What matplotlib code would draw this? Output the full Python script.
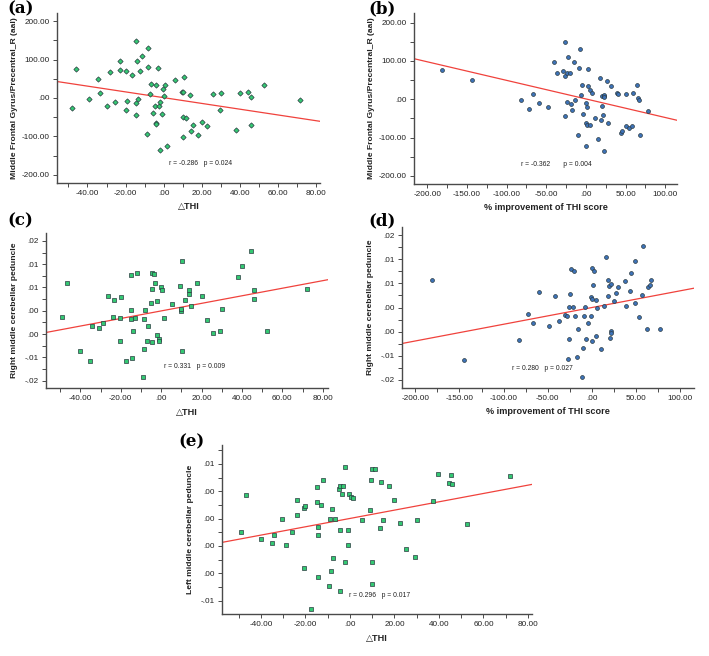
import numpy as np
import matplotlib
matplotlib.use('Agg')
import matplotlib.pyplot as plt
from matplotlib.ticker import FixedLocator

plt.rcParams['font.family'] = ['Liberation Sans', 'DejaVu Sans']

linecolor = '#F0423C'
greencolor = '#33C872'
bluecolor = '#3D72B8'
edgecolor = '#2B3A40'
axcolor = '#4A4A4A'

# ---- data ----
# (a) delta THI vs Middle Frontal Gyrus/Precentral_R
a_x = [-48.0, -45.9, -39.2, -34.5, -33.5, -29.8, -28.1, -25.5, -22.8, -22.8, -19.7, -19.5, -19.7,
       -16.7, -14.3, -14.1, -14.3, -13.6, -14.5, -12.2, -11.3, -8.9, -8.4, -8.0, -7.3, -6.5, -5.8,
       -4.5, -4.2, -4.2, -4.2, -2.8, -2.6, -1.9, -1.7, -0.7, -0.5, 0.0, 0.9, 1.7, 6.1, 9.6, 9.9,
       10.3, 10.3, 10.5, 11.9, 13.9, 14.3, 15.3, 17.8, 20.1, 22.8, 25.6, 29.3, 30.0, 37.7, 39.8,
       44.3, 45.9, 45.7, 52.5, 71.7]
a_y = [-27, 76, -2, 50, 13, -21, 68, -10, 97, 73, 70, -9, -31,
       60, 149, 97, -14, -2, -43, 69, 109, -94, 81, 129, 10, 36, -39,
       -21, 35, -65, -68, 78, -20, -10, -135, -41, 23, 5, 34, -124, 47, 16, 16,
       -102, -50, 55, -52, 9, -87, -71, -95, -63, -74, 10, -32, 12, -83, 14,
       16, 3, -70, 35, -4]

# (b) % improvement of THI vs Middle Frontal Gyrus/Precentral_R
b_x = [-181.4, -144.4, -81.6, -71.5, -66.5, -59.8, -48.4, -40.8, -36.6, -29.5, -26.1, -26.1, -26.5,
       -24.4, -23.6, -22.7, -20.6, -19.4, -17.3, -15.6, -13.9, -10.1, -8.8, -8.0, -6.3, -5.5, -3.4,
       -0.4, 0.4, 0.8, 0.8, 0.4, 2.5, 2.9, 5.5, 7.2, 5.5, 10.9, 14.7, 17.3, 18.5, 19.8, 20.2,
       21.5, 22.3, 23.1, 23.1, 23.1, 26.5, 28.2, 31.1, 38.7, 40.4, 44.2, 45.5, 50.9, 50.5, 54.7,
       58.1, 59.3, 64.4, 65.7, 67.3, 68.2, 78.7]
b_y = [77, 51, -1, -26, 14, -9, -20, 98, 68, 74, 150, 61, -43,
       -8, 69, 111, 69, -13, -29, 98, -1, -93, 81, 130, 11, 36, -38,
       -10, -62, -68, -19, -123, 35, 78, 24, 16, -66, -50, -103, 55, -53, -18, 9,
       -41, 8, 10, 5, -134, 48, -62, 35, 16, 14, -87, -82, -69, 14, -74,
       -69, 16, 36, 3, -3, -94, -31]

# (c) delta THI vs Right middle cerebellar peduncle
c_x = [-49.0, -46.8, -40.1, -35.4, -34.1, -30.7, -28.7, -26.1, -23.4, -23.6, -20.4, -20.1, -20.3,
       -17.5, -14.8, -14.8, -14.7, -14.5, -14.0, -12.9, -11.9, -9.2, -8.7, -8.4, -7.9, -7.1, -6.3,
       -4.8, -4.6, -4.5, -4.5, -3.5, -3.0, -2.1, -2.1, -1.0, -1.0, -0.3, 0.3, 1.5, 5.4, 9.2, 9.9,
       9.9, 10.2, 10.1, 11.7, 13.9, 14.0, 15.0, 17.6, 20.0, 22.8, 25.6, 29.3, 30.0, 37.8, 39.9,
       44.7, 46.0, 45.8, 52.6, 72.2]
c_y = [-0.0013, 0.0059, -0.0087, -0.0107, -0.0032, -0.0038, -0.0027, 0.0032, 0.0024, -0.0014,
       -0.0066, 0.0029, -0.0016, -0.0107, 0.0001, -0.0017, 0.0076, -0.0102, -0.0044, -0.0016,
       0.0081, -0.0143, -0.0083, -0.0017, 0.0002, -0.0065, -0.0032, 0.0016, 0.0082, 0.0046,
       -0.0068, 0.0078, 0.0059, 0.0021, -0.0052, -0.0060, -0.0064, 0.0050, 0.0044, -0.0016,
       0.0014, 0.0054, 0.0000, 0.0003, 0.0106, -0.0086, 0.0024, 0.0045, 0.0035, 0.0011,
       0.0059, 0.0032, -0.0019, -0.0047, -0.0044, 0.0004, 0.0072, 0.0097, 0.0128, 0.0044,
       0.0026, -0.0043, 0.0047]

# (d) % improvement of THI vs Right middle cerebellar peduncle
d_x = [-181.1, -144.5, -82.3, -72.1, -66.8, -60.4, -49.1, -41.9, -37.7, -30.2, -28.3, -27.2, -26.0,
       -25.7, -25.3, -23.8, -21.5, -20.8, -18.9, -16.6, -15.5, -10.9, -10.2, -9.1, -7.5, -7.2,
       -4.2, -1.1, -0.8, -0.4, 0.0, 0.4, 1.1, 1.9, 4.2, 4.9, 5.7, 10.2, 13.6, 16.2, 17.7, 18.5,
       19.2, 20.4, 21.1, 21.5, 21.9, 25.3, 26.8, 29.8, 37.4, 38.9, 42.6, 43.8, 49.1, 49.1, 53.2,
       56.2, 57.7, 62.3, 63.8, 65.3, 66.8, 76.6]
d_y = [0.0058, -0.0108, -0.0067, -0.0013, -0.0033, 0.0032, -0.0039, 0.0023, -0.0027, -0.0015,
       -0.0017, -0.0107, 0.0001, -0.0066, 0.0029, 0.0080, 0.0002, 0.0075, -0.0017, -0.0102,
       -0.0044, -0.0144, -0.0083, -0.0017, 0.0001, -0.0066, -0.0033, 0.0021, -0.0017, 0.0082,
       -0.0069, 0.0017, 0.0046, 0.0076, 0.0015, -0.0060, 0.0000, -0.0087, 0.0003, 0.0105,
       0.0023, 0.0058, 0.0044, -0.0064, 0.0048, -0.0048, -0.0053, 0.0013, 0.0031, 0.0043,
       0.0054, 0.0003, 0.0034, 0.0071, 0.0096, 0.0010, -0.0019, 0.0025, 0.0127, -0.0044,
       0.0043, 0.0046, 0.0057, -0.0044]

# (e) delta THI vs Left middle cerebellar peduncle
e_x = [-49.0, -46.8, -40.0, -35.2, -34.2, -30.6, -28.8, -26.1, -23.6, -23.6, -20.7, -20.6, -20.1,
       -17.6, -15.0, -15.0, -14.5, -14.5, -14.2, -12.9, -12.0, -9.5, -9.0, -8.6, -8.1, -7.4,
       -6.6, -5.1, -4.7, -4.7, -4.5, -3.5, -3.2, -2.3, -2.1, -1.1, -0.9, -0.6, 0.3, 1.4, 5.4,
       9.2, 9.6, 9.9, 10.1, 10.1, 11.4, 13.5, 13.8, 14.9, 17.4, 19.8, 22.7, 25.4, 29.3, 29.9,
       37.4, 39.6, 44.4, 45.6, 45.8, 52.5, 72.0]
e_y = [0.0000, 0.0027, -0.0005, -0.0008, -0.0002, 0.0010, -0.0009, 0.0000, 0.0013, 0.0024,
       -0.0026, 0.0018, 0.0019, -0.0056, 0.0033, 0.0022, 0.0004, -0.0033, -0.0002, 0.0020,
       0.0038, -0.0039, 0.0010, -0.0028, 0.0017, -0.0019, 0.0010, 0.0032, 0.0034, 0.0002,
       -0.0043, 0.0028, 0.0034, -0.0022, 0.0048, 0.0002, -0.0009, 0.0028, 0.0026, 0.0025,
       0.0009, 0.0016, 0.0038, -0.0022, 0.0046, -0.0038, 0.0046, 0.0003, 0.0037, 0.0009,
       0.0034, 0.0024, 0.0007, -0.0012, -0.0018, 0.0009, 0.0023, 0.0043, 0.0036, 0.0042,
       0.0035, 0.0006, 0.0041]

thi_ticks = [-40, -20, 0, 20, 40, 60, 80]
thi_labels = ['-40.00', '-20.00', '.00', '20.00', '40.00', '60.00', '80.00']
pct_ticks = [-200, -150, -100, -50, 0, 50, 100]
pct_labels = ['-200.00', '-150.00', '-100.00', '-50.00', '.00', '50.00', '100.00']
mfg_ticks = [-200, -100, 0, 100, 200]
mfg_labels = ['-200.00', '-100.00', '.00', '100.00', '200.00']
rmcp_ticks = [-0.015, -0.010, -0.005, 0.0, 0.005, 0.010, 0.015]
rmcp_labels = ['-.02', '-.01', '.00', '.00', '.01', '.01', '.02']
lmcp_ticks = [-0.005, -0.003, -0.001, 0.001, 0.003, 0.005]
lmcp_labels = ['-.01', '.00', '.00', '.00', '.00', '.01']

stats = {'a': 'r = -0.286   p = 0.024', 'b': 'r = -0.362       p = 0.004',
         'c': 'r = 0.331   p = 0.009', 'd': 'r = 0.280   p = 0.027',
         'e': 'r = 0.296   p = 0.017'}

W, H = 709, 656
fig = plt.figure(figsize=(W / 100, H / 100), dpi=100)


def px_axes(l, t, r, b):
    return fig.add_axes([l / W, (H - b) / H, (r - l) / W, (b - t) / H])


def style_axes(ax, xt, xl, yt, yl, xlim, ylim, xminor, yminor):
    for spine in ['right', 'top']:
        ax.spines[spine].set_visible(False)
    for spine in ['left', 'bottom']:
        ax.spines[spine].set_color(axcolor)
        ax.spines[spine].set_linewidth(1.0)
    ax.set_xlim(xlim)
    ax.set_ylim(ylim)
    ax.set_xticks(xt)
    ax.set_xticklabels(xl)
    ax.set_yticks(yt)
    ax.set_yticklabels(yl)
    ax.xaxis.set_minor_locator(FixedLocator(xminor))
    ax.yaxis.set_minor_locator(FixedLocator(yminor))
    ax.tick_params(which='both', direction='out', length=3, width=0.7, color=axcolor,
                   labelsize=5.9, labelcolor='#222222', pad=2)


def scatter_panel(ax, x, y, marker, color, ms):
    x = np.array(x)
    y = np.array(y)
    ax.plot(x, y, linestyle='none', marker=marker, markersize=ms, markerfacecolor=color,
            markeredgecolor=edgecolor, markeredgewidth=0.5, zorder=3)
    k, b0 = np.polyfit(x, y, 1)
    xl = np.array(ax.get_xlim())
    ax.plot(xl, k * xl + b0, color=linecolor, linewidth=0.9, zorder=2)


def mids(ticks, lo, hi):
    step = ticks[1] - ticks[0]
    m = []
    v = ticks[0] - step / 2
    while v < hi:
        if v > lo:
            m.append(v)
        v += step
    return m


xlab_kw = dict(fontsize=6.6, fontweight='bold', color='#222222')
ylab_kw = dict(fontsize=6.1, fontweight='bold', color='#222222')
stat_kw = dict(fontsize=4.9, va='center', color='#222222')
panel_kw = dict(fontsize=12, fontweight='bold', family='DejaVu Serif')

# (a)
ax = px_axes(57, 13, 320, 183)
xlim, ylim = (-56, 82), (-221, 221)
style_axes(ax, thi_ticks, thi_labels, mfg_ticks, mfg_labels, xlim, ylim,
           mids(thi_ticks, *xlim), mids(mfg_ticks, *ylim))
scatter_panel(ax, a_x, a_y, 'D', greencolor, 2.7)
ax.text(2.6, -171, stats['a'], **stat_kw)
ax.set_xlabel('△THI', labelpad=4, **xlab_kw)
ax.set_ylabel('Middle Frontal Gyrus/Precentral_R (aal)', labelpad=3, **ylab_kw)

# (b)
ax = px_axes(414, 13, 677, 184)
xlim, ylim = (-217, 115), (-221, 225)
style_axes(ax, pct_ticks, pct_labels, mfg_ticks, mfg_labels, xlim, ylim,
           mids(pct_ticks, *xlim), mids(mfg_ticks, *ylim))
scatter_panel(ax, b_x, b_y, 'o', bluecolor, 2.8)
ax.text(-82, -169, stats['b'], **stat_kw)
ax.set_xlabel('% improvement of THI score', labelpad=4, **xlab_kw)
ax.set_ylabel('Middle Frontal Gyrus/Precentral_R (aal)', labelpad=3, **ylab_kw)

# (c)
ax = px_axes(46, 233, 328, 388)
xlim, ylim = (-57, 82.6), (-0.0166, 0.0167)
style_axes(ax, thi_ticks, thi_labels, rmcp_ticks, rmcp_labels, xlim, ylim,
           mids(thi_ticks, *xlim), mids(rmcp_ticks, *ylim))
scatter_panel(ax, c_x, c_y, 's', greencolor, 2.5)
ax.text(1.3, -0.0120, stats['c'], **stat_kw)
ax.set_xlabel('△THI', labelpad=4, **xlab_kw)
ax.set_ylabel('Right middle cerebellar peduncle', labelpad=5, **ylab_kw)

# (d)
ax = px_axes(402, 227, 694, 388)
xlim, ylim = (-215, 115.5), (-0.0167, 0.0167)
style_axes(ax, pct_ticks, pct_labels, rmcp_ticks, rmcp_labels, xlim, ylim,
           mids(pct_ticks, *xlim), mids(rmcp_ticks, *ylim))
scatter_panel(ax, d_x, d_y, 'o', bluecolor, 2.8)
ax.text(-90.6, -0.0127, stats['d'], **stat_kw)
ax.set_xlabel('% improvement of THI score', labelpad=4, **xlab_kw)
ax.set_ylabel('Right middle cerebellar peduncle', labelpad=5, **ylab_kw)

# (e)
ax = px_axes(222, 445, 532, 614)
xlim, ylim = (-57.5, 81.8), (-0.00598, 0.00639)
style_axes(ax, thi_ticks, thi_labels, lmcp_ticks, lmcp_labels, xlim, ylim,
           mids(thi_ticks, *xlim), mids(lmcp_ticks, *ylim))
scatter_panel(ax, e_x, e_y, 's', greencolor, 2.5)
ax.text(-0.6, -0.00466, stats['e'], **stat_kw)
ax.set_xlabel('△THI', labelpad=4, **xlab_kw)
ax.set_ylabel('Left middle cerebellar peduncle', labelpad=5, **ylab_kw)

# panel letters
fig.text(7 / W, 1 - 9 / H, '(a)', va='center', **panel_kw)
fig.text(368 / W, 1 - 9 / H, '(b)', va='center', **panel_kw)
fig.text(7 / W, 1 - 221 / H, '(c)', va='center', **panel_kw)
fig.text(368 / W, 1 - 221 / H, '(d)', va='center', **panel_kw)
fig.text(178 / W, 1 - 442 / H, '(e)', va='center', **panel_kw)

fig.savefig('out.png', dpi=100, facecolor='white')
